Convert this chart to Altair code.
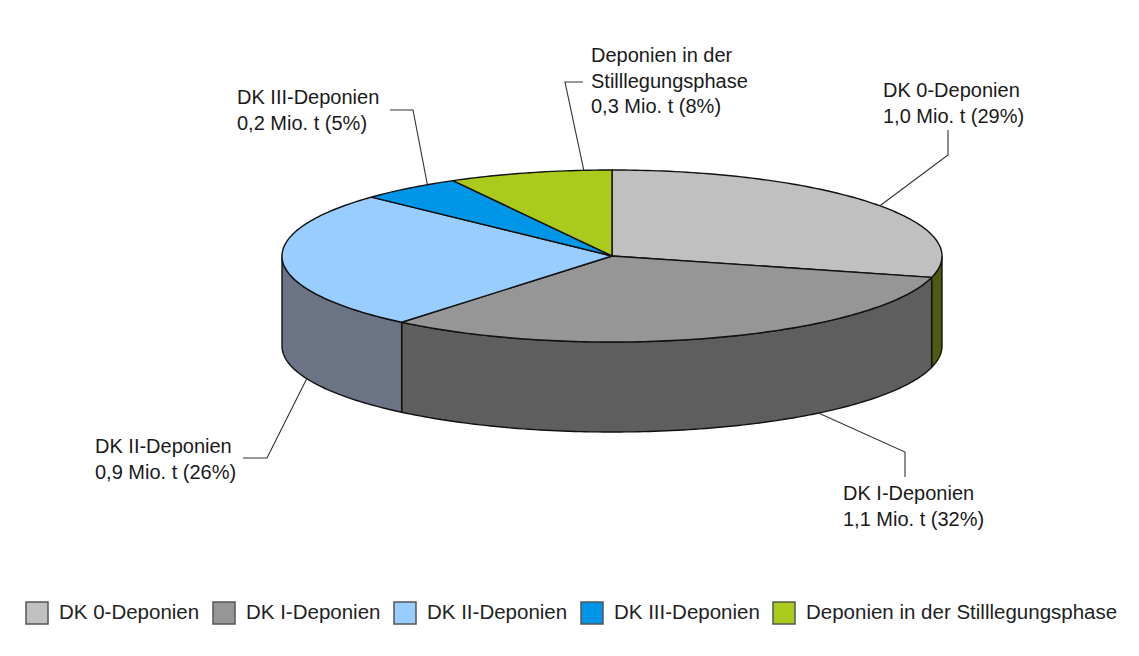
import altair as alt
import numpy as np
import pandas as pd

# ---------------- data ----------------
categories = ["DK 0-Deponien", "DK I-Deponien", "DK II-Deponien",
              "DK III-Deponien", "Deponien in der Stilllegungsphase"]
label_names = ["DK 0-Deponien", "DK I-Deponien", "DK II-Deponien",
               "DK III-Deponien", "Deponien in der\nStilllegungsphase"]
values_mio_t = [1.0, 1.1, 0.9, 0.2, 0.3]
shares_pct = [29, 32, 26, 5, 8]

# ---------------- styling ----------------
top_colors = ["#c0c0c0", "#969696", "#99ccff", "#0096e8", "#abcb1c"]
side_colors = ["#4f5a0f", "#5e5e5e", "#6b7384", "#005a90", "#5f7010"]

W, H = 1120, 630          # plot area (page offset 8px)
CX, CY = 612, 256         # ellipse centre (page px)
A, B = 330, 86            # ellipse semi-axes
DEPTH = 90                # pie thickness

# label layout: fraction of slice where leader starts, edge (top/bottom),
# elbow, end, text anchor (left x, first baseline)
label_layout = [
    dict(frac=0.52, edge="top", elbow=(948, 155), end=(948, 130), text=(883, 97)),
    dict(frac=0.32, edge="bottom", elbow=(905, 452), end=(905, 477), text=(843, 500)),
    dict(frac=0.30, edge="bottom", elbow=(267, 458), end=(243, 458), text=(95, 453)),
    dict(frac=0.71, edge="top", elbow=(413, 110), end=(390, 110), text=(237, 104)),
    dict(frac=0.83, edge="top", elbow=(565, 82), end=(583, 82), text=(591, 62)),
]


def ell(t_deg, dy=0.0):
    t = np.radians(t_deg)
    return CX + A * np.sin(t), CY - B * np.cos(t) + dy


total = sum(shares_pct)
bounds = np.concatenate([[0], np.cumsum(shares_pct)]) / total * 360.0

top_rows, side_rows, lead_rows, text_rows = [], [], [], []
for k, cat in enumerate(categories):
    t1, t2 = bounds[k], bounds[k + 1]
    # top face
    pts = [(CX, CY)]
    for t in np.linspace(t1, t2, max(int((t2 - t1) / 1.0), 2) + 1):
        pts.append(ell(t))
    pts.append((CX, CY))
    for i, (x, y) in enumerate(pts):
        top_rows.append(dict(cat=cat, x=x, y=y, i=i))
    # visible side wall (front half 90..270 deg)
    s1, s2 = max(t1, 90.0), min(t2, 270.0)
    if s2 > s1:
        ts = np.linspace(s1, s2, max(int((s2 - s1) / 1.0), 2) + 1)
        spts = [ell(t) for t in ts] + [ell(t, DEPTH) for t in ts[::-1]]
        spts.append(spts[0])
        for i, (x, y) in enumerate(spts):
            side_rows.append(dict(slice=cat, fc=side_colors[k], x=x, y=y, i=i))
    # leader line + label
    lay = label_layout[k]
    ta = t1 + lay["frac"] * (t2 - t1)
    ax, ay = ell(ta, DEPTH if lay["edge"] == "bottom" else 0.0)
    for i, (x, y) in enumerate([(ax, ay), lay["elbow"], lay["end"]]):
        lead_rows.append(dict(slice=cat, x=x, y=y, i=i))
    val = f"{values_mio_t[k]:.1f}".replace(".", ",")
    text_rows.append(dict(x=lay["text"][0], y=lay["text"][1],
                          label=f"{label_names[k]}\n{val} Mio. t ({shares_pct[k]}%)"))

top_df = pd.DataFrame(top_rows)
side_df = pd.DataFrame(side_rows)
lead_df = pd.DataFrame(lead_rows)
text_df = pd.DataFrame(text_rows)

xs = alt.Scale(domain=[8, 8 + W], nice=False, zero=False)
ys = alt.Scale(domain=[8, 8 + H], nice=False, zero=False, reverse=True)
X = alt.X("x:Q", scale=xs, axis=None)
Y = alt.Y("y:Q", scale=ys, axis=None)

sides = alt.Chart(side_df).mark_line(
    filled=True, stroke="#111111", strokeWidth=1.4, strokeJoin="round"
).encode(
    x=X, y=Y,
    fill=alt.Fill("fc:N", scale=None),
    detail="slice:N",
    order=alt.Order("i:Q"),
)

tops = alt.Chart(top_df).mark_line(
    filled=True, stroke="#111111", strokeWidth=1.4, strokeJoin="round"
).encode(
    x=X, y=Y,
    color=alt.Color(
        "cat:N",
        scale=alt.Scale(domain=categories, range=top_colors),
        sort=categories,
        legend=alt.Legend(
            title=None, orient="none", legendX=17, legendY=593,
            direction="horizontal", symbolType="square", symbolSize=484,
            symbolStrokeColor="#555555", symbolStrokeWidth=1.5,
            symbolOpacity=1,
            labelFontSize=20.5, labelFont="Liberation Sans", labelColor="#222222",
            labelOffset=10, columnPadding=10, padding=0, labelLimit=0,
        ),
    ),
    order=alt.Order("i:Q"),
)

leaders = alt.Chart(lead_df).mark_line(
    stroke="#333333", strokeWidth=1.1
).encode(
    x=X, y=Y, detail="slice:N", order=alt.Order("i:Q"),
)

labels = alt.Chart(text_df).mark_text(
    align="left", baseline="alphabetic", lineBreak="\n", lineHeight=25.5,
    fontSize=20, font="Liberation Sans", color="#1a1a1a",
).encode(x=X, y=Y, text="label:N")

chart = alt.layer(sides, tops, leaders, labels).properties(
    width=W, height=H, padding=0,
    autosize=alt.AutoSizeParams(type="none"),
    background="#ffffff",
).configure_view(stroke=None)

chart.save("out.html", embed_options={"renderer": "svg", "actions": False})
